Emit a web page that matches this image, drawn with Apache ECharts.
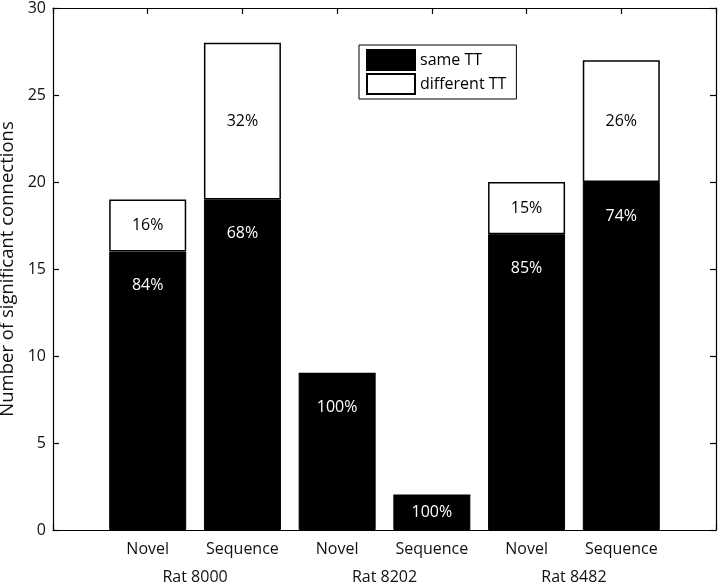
<!DOCTYPE html>
<html>
<head>
<meta charset="utf-8">
<script src="https://cdn.jsdelivr.net/npm/echarts@6/dist/echarts.min.js"></script>
<style>
  html, body { margin: 0; padding: 0; background: #fff; }
  #chart { width: 720px; height: 582px; }
</style>
</head>
<body>
<div id="chart"></div>
<script>
// bars, left to right
const conditions = ['Novel', 'Sequence', 'Novel', 'Sequence', 'Novel', 'Sequence'];
const rats = ['Rat 8000', 'Rat 8202', 'Rat 8482'];
const sameTT = [16, 19, 9, 2, 17, 20];
const differentTT = [3, 9, 0, 0, 3, 7];
const yTicks = [0, 5, 10, 15, 20, 25, 30];

const fontFamily = '"Open Sans", "Noto Sans", sans-serif';

// x axis runs 0..7 with bars on 1..6, so pad both ends
const xCats = [''].concat(conditions, ['']);
const pad = arr => [null].concat(arr, [null]);

// half-step slots for the rat labels (centred between each pair of bars)
const ratSlots = [];
for (let i = 0; i <= 14; i++) ratSlots.push('');
rats.forEach((r, k) => { ratSlots[3 + 4 * k] = r; });

const totals = sameTT.map((v, i) => v + differentTT[i]);
const pct = (v, i) => Math.round(v / totals[i] * 100) + '%';

// short bars keep their label closer to the top
const sameItems = sameTT.map(v => ({ value: v, label: { distance: v < 4 ? 9 : 26 } }));

const chart = echarts.init(document.getElementById('chart'));

const axisLine = { show: true, lineStyle: { color: '#000', width: 1.2 } };
const innerTick = { show: true, inside: true, length: 6, lineStyle: { color: '#000', width: 1.2 } };

chart.setOption({
  animation: false,
  textStyle: { fontFamily: fontFamily },
  grid: { left: 53, right: 4, top: 8, bottom: 52, outerBoundsMode: 'none' },
  legend: {
    left: 359,
    top: 45,
    orient: 'vertical',
    itemWidth: 48,
    itemHeight: 20,
    itemGap: 2,
    padding: [4, 10, 4, 7],
    borderColor: '#000',
    borderWidth: 1,
    borderRadius: 0,
    data: [
      { name: 'same TT', icon: 'rect' },
      { name: 'different TT', icon: 'rect', itemStyle: { borderColor: '#000', borderWidth: 2 } }
    ],
    textStyle: { fontSize: 16, color: '#000' }
  },
  xAxis: [
    {
      type: 'category',
      data: xCats,
      boundaryGap: false,
      axisLine: axisLine,
      axisTick: innerTick,
      axisLabel: { interval: 0, fontSize: 16, color: '#111', margin: 11 },
      z: 0
    },
    {
      type: 'category',
      data: ratSlots,
      boundaryGap: false,
      position: 'bottom',
      axisLine: { show: false },
      axisTick: { show: false },
      axisLabel: { interval: 0, fontSize: 16, color: '#111', margin: 39 }
    },
    {
      type: 'category',
      data: xCats,
      boundaryGap: false,
      position: 'top',
      axisLine: axisLine,
      axisTick: innerTick,
      axisLabel: { show: false }
    }
  ],
  yAxis: [
    {
      type: 'value',
      min: yTicks[0],
      max: yTicks[yTicks.length - 1],
      interval: yTicks[1] - yTicks[0],
      name: 'Number of significant connections',
      nameLocation: 'middle',
      nameGap: 30,
      nameTextStyle: { fontSize: 18.5, color: '#111' },
      axisLine: axisLine,
      axisTick: innerTick,
      axisLabel: { fontSize: 16, color: '#111', margin: 7 },
      splitLine: { show: false }
    },
    {
      type: 'value',
      position: 'right',
      min: yTicks[0],
      max: yTicks[yTicks.length - 1],
      interval: yTicks[1] - yTicks[0],
      axisLine: axisLine,
      axisTick: innerTick,
      axisLabel: { show: false },
      splitLine: { show: false }
    }
  ],
  series: [
    {
      name: 'same TT',
      type: 'bar',
      stack: 'tt',
      barWidth: 77,
      data: pad(sameItems),
      itemStyle: { color: '#000', borderColor: '#000', borderWidth: 1 },
      label: {
        show: true,
        color: '#fff',
        fontSize: 16,
        position: 'insideTop',
        formatter: p => pct(p.value, p.dataIndex - 1)
      },
      z: 2
    },
    {
      name: 'different TT',
      type: 'bar',
      stack: 'tt',
      barWidth: 77,
      data: pad(differentTT),
      itemStyle: { color: '#fff', borderColor: '#000', borderWidth: 1.5 },
      label: {
        show: true,
        color: '#000',
        fontSize: 16,
        position: 'inside',
        formatter: p => p.value ? pct(p.value, p.dataIndex - 1) : ''
      },
      z: 2
    }
  ]
});
</script>
</body>
</html>
